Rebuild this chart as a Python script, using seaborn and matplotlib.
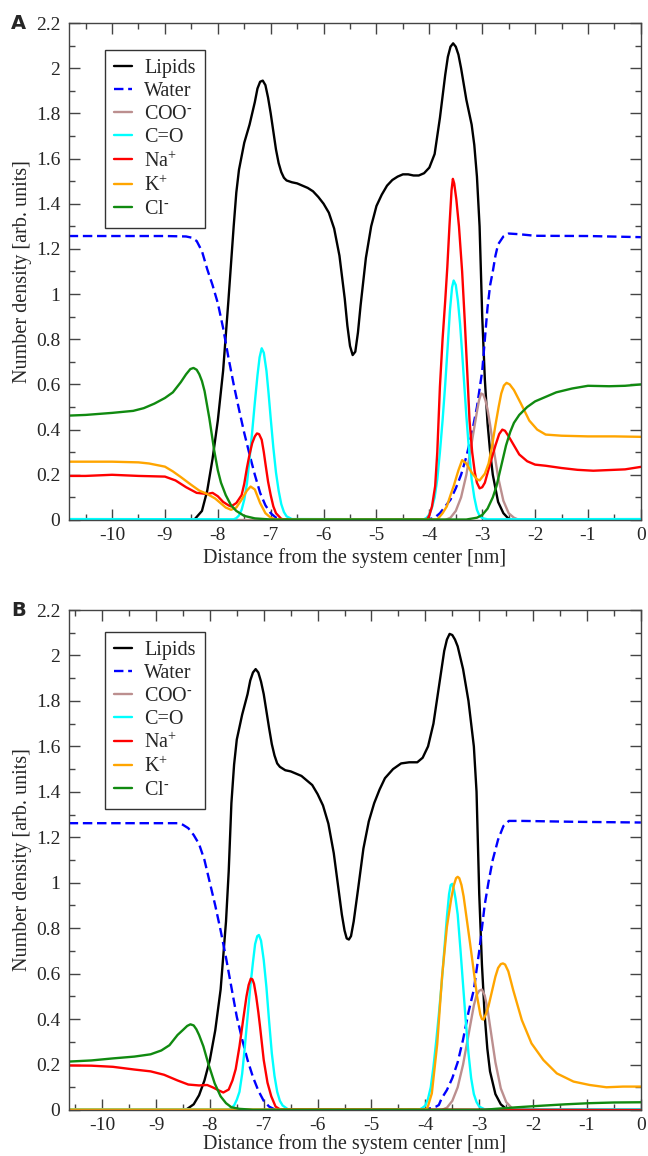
import pandas as pd
import seaborn as sns
import matplotlib.pyplot as plt
from matplotlib.ticker import MultipleLocator, FormatStrFormatter

# ---- panel A ----
lipids_a = [(-10.82, 0), (-8.45, 0), (-8.3, 0.04), (-8.2, 0.13), (-8.1, 0.27), (-8.0, 0.44),
            (-7.9, 0.66), (-7.8, 0.97), (-7.7, 1.3), (-7.65, 1.45), (-7.6, 1.55), (-7.5, 1.67),
            (-7.4, 1.75), (-7.3, 1.85), (-7.25, 1.91), (-7.2, 1.94), (-7.15, 1.945), (-7.1, 1.925),
            (-7.05, 1.87), (-7.0, 1.8), (-6.95, 1.72), (-6.9, 1.64), (-6.85, 1.58), (-6.8, 1.54),
            (-6.75, 1.515), (-6.7, 1.503), (-6.6, 1.495), (-6.5, 1.49), (-6.4, 1.48), (-6.3, 1.47),
            (-6.2, 1.455), (-6.1, 1.43), (-6.0, 1.40), (-5.9, 1.36), (-5.8, 1.29), (-5.7, 1.17),
            (-5.6, 0.98), (-5.55, 0.86), (-5.5, 0.77), (-5.45, 0.73), (-5.4, 0.745), (-5.35, 0.83),
            (-5.3, 0.95), (-5.2, 1.16), (-5.1, 1.3), (-5.0, 1.39), (-4.9, 1.44), (-4.8, 1.48),
            (-4.7, 1.505), (-4.6, 1.52), (-4.5, 1.53), (-4.4, 1.53), (-4.3, 1.525), (-4.2, 1.525),
            (-4.1, 1.535), (-4.0, 1.56), (-3.9, 1.62), (-3.8, 1.78), (-3.7, 1.97), (-3.65, 2.05),
            (-3.6, 2.095), (-3.55, 2.11), (-3.5, 2.095), (-3.45, 2.06), (-3.4, 2.0), (-3.3, 1.86),
            (-3.2, 1.75), (-3.15, 1.66), (-3.1, 1.52), (-3.05, 1.3), (-3.0, 0.9), (-2.95, 0.62),
            (-2.9, 0.43), (-2.85, 0.3), (-2.8, 0.2), (-2.7, 0.08), (-2.6, 0.03), (-2.5, 0.005),
            (-2.4, 0), (0, 0)]
water_a = [(-10.82, 1.257), (-9.0, 1.257), (-8.6, 1.255), (-8.5, 1.25), (-8.4, 1.235), (-8.3, 1.19),
           (-8.2, 1.11), (-8.1, 1.04), (-8.0, 0.96), (-7.9, 0.85), (-7.8, 0.72), (-7.7, 0.6),
           (-7.6, 0.49), (-7.5, 0.385), (-7.4, 0.29), (-7.3, 0.2), (-7.2, 0.12), (-7.1, 0.065),
           (-7.0, 0.03), (-6.9, 0.01), (-6.8, 0.003), (-4.0, 0.003), (-3.9, 0.01), (-3.8, 0.03),
           (-3.7, 0.06), (-3.6, 0.09), (-3.5, 0.14), (-3.4, 0.2), (-3.3, 0.28), (-3.2, 0.38),
           (-3.1, 0.5), (-3.0, 0.66), (-2.95, 0.8), (-2.9, 0.94), (-2.85, 1.04), (-2.8, 1.1),
           (-2.75, 1.17), (-2.7, 1.22), (-2.6, 1.255), (-2.5, 1.268), (-2.3, 1.265), (-2.0, 1.258),
           (-1.0, 1.257), (0, 1.252)]
coo_a = [(-10.82, 0), (-3.7, 0), (-3.6, 0.01), (-3.5, 0.04), (-3.4, 0.1), (-3.3, 0.2), (-3.2, 0.34),
         (-3.1, 0.48), (-3.06, 0.53), (-3.02, 0.56), (-2.98, 0.555), (-2.94, 0.53), (-2.9, 0.49),
         (-2.85, 0.42), (-2.8, 0.34), (-2.7, 0.19), (-2.6, 0.085), (-2.5, 0.03), (-2.4, 0.01),
         (-2.3, 0), (0, 0)]
co_a = [(-10.82, 0.004), (-7.7, 0.003), (-7.65, 0.008), (-7.6, 0.02), (-7.55, 0.045), (-7.5, 0.09),
        (-7.45, 0.16), (-7.4, 0.27), (-7.35, 0.39), (-7.3, 0.52), (-7.25, 0.64), (-7.21, 0.72),
        (-7.17, 0.76), (-7.13, 0.74), (-7.08, 0.66), (-7.04, 0.56), (-7.0, 0.45), (-6.95, 0.32),
        (-6.9, 0.21), (-6.85, 0.13), (-6.8, 0.07), (-6.75, 0.035), (-6.7, 0.016), (-6.6, 0.004),
        (-4.1, 0.003), (-4.05, 0.01), (-4.0, 0.025), (-3.95, 0.055), (-3.9, 0.1), (-3.85, 0.18),
        (-3.8, 0.3), (-3.75, 0.44), (-3.7, 0.6), (-3.65, 0.78), (-3.61, 0.93), (-3.57, 1.03),
        (-3.54, 1.06), (-3.5, 1.04), (-3.46, 0.97), (-3.42, 0.87), (-3.38, 0.74), (-3.34, 0.6),
        (-3.3, 0.46), (-3.25, 0.31), (-3.2, 0.18), (-3.15, 0.1), (-3.1, 0.045), (-3.05, 0.018),
        (-3.0, 0.008), (-2.9, 0.003), (0, 0.004)]
na_a = [(-10.82, 0.195), (-10.5, 0.195), (-10.0, 0.2), (-9.5, 0.195), (-9.0, 0.192), (-8.8, 0.175),
        (-8.6, 0.145), (-8.4, 0.12), (-8.2, 0.115), (-8.1, 0.12), (-8.0, 0.105), (-7.9, 0.08),
        (-7.8, 0.065), (-7.75, 0.06), (-7.65, 0.075), (-7.55, 0.11), (-7.5, 0.16), (-7.45, 0.23),
        (-7.4, 0.29), (-7.35, 0.34), (-7.3, 0.37), (-7.26, 0.383), (-7.22, 0.38), (-7.17, 0.355),
        (-7.13, 0.3), (-7.1, 0.25), (-7.05, 0.17), (-7.0, 0.11), (-6.95, 0.06), (-6.9, 0.03),
        (-6.8, 0.005), (-6.7, 0), (-4.05, 0), (-4.0, 0.02), (-3.95, 0.06), (-3.89, 0.15),
        (-3.85, 0.3), (-3.8, 0.59), (-3.75, 0.8), (-3.7, 0.97), (-3.66, 1.12), (-3.62, 1.3),
        (-3.58, 1.46), (-3.555, 1.51), (-3.53, 1.49), (-3.49, 1.42), (-3.44, 1.3), (-3.38, 1.1),
        (-3.33, 0.88), (-3.28, 0.64), (-3.24, 0.44), (-3.19, 0.3), (-3.14, 0.21), (-3.1, 0.165),
        (-3.05, 0.14), (-3.0, 0.145), (-2.95, 0.165), (-2.85, 0.25), (-2.75, 0.33), (-2.68, 0.38),
        (-2.62, 0.4), (-2.57, 0.395), (-2.5, 0.37), (-2.4, 0.33), (-2.3, 0.29), (-2.15, 0.26),
        (-2.0, 0.245), (-1.8, 0.24), (-1.5, 0.23), (-1.2, 0.222), (-0.9, 0.218), (-0.6, 0.221),
        (-0.3, 0.224), (0, 0.235)]
k_a = [(-10.82, 0.258), (-10.0, 0.258), (-9.5, 0.255), (-9.3, 0.25), (-9.0, 0.236), (-8.85, 0.215),
       (-8.7, 0.19), (-8.5, 0.155), (-8.35, 0.13), (-8.2, 0.115), (-8.05, 0.095), (-7.95, 0.075),
       (-7.85, 0.055), (-7.75, 0.045), (-7.65, 0.055), (-7.55, 0.09), (-7.45, 0.13), (-7.38, 0.148),
       (-7.3, 0.135), (-7.2, 0.075), (-7.1, 0.03), (-7.0, 0.01), (-6.9, 0.002), (-3.85, 0.002),
       (-3.75, 0.03), (-3.67, 0.06), (-3.6, 0.11), (-3.54, 0.15), (-3.45, 0.22), (-3.38, 0.265),
       (-3.3, 0.25), (-3.2, 0.21), (-3.1, 0.18), (-3.05, 0.175), (-2.95, 0.205), (-2.88, 0.25),
       (-2.82, 0.32), (-2.75, 0.42), (-2.69, 0.5), (-2.64, 0.56), (-2.59, 0.595), (-2.54, 0.607),
       (-2.48, 0.6), (-2.4, 0.575), (-2.27, 0.516), (-2.11, 0.44), (-1.96, 0.40), (-1.8, 0.378),
       (-1.5, 0.373), (-1.0, 0.37), (-0.5, 0.37), (0, 0.368)]
cl_a = [(-10.82, 0.462), (-10.5, 0.465), (-10.0, 0.474), (-9.6, 0.483), (-9.4, 0.495), (-9.2, 0.515),
        (-9.0, 0.54), (-8.85, 0.565), (-8.7, 0.61), (-8.6, 0.645), (-8.52, 0.668), (-8.46, 0.673),
        (-8.4, 0.665), (-8.35, 0.645), (-8.3, 0.615), (-8.25, 0.57), (-8.16, 0.45), (-8.07, 0.31),
        (-8.0, 0.22), (-7.94, 0.165), (-7.85, 0.11), (-7.75, 0.065), (-7.65, 0.04), (-7.5, 0.018),
        (-7.3, 0.007), (-7.0, 0.002), (-3.3, 0.002), (-3.1, 0.01), (-3.0, 0.022), (-2.9, 0.05),
        (-2.8, 0.1), (-2.73, 0.15), (-2.65, 0.23), (-2.55, 0.33), (-2.47, 0.39), (-2.4, 0.43),
        (-2.3, 0.465), (-2.15, 0.5), (-2.0, 0.525), (-1.8, 0.545), (-1.6, 0.565), (-1.3, 0.582),
        (-1.0, 0.594), (-0.6, 0.592), (-0.3, 0.594), (0, 0.6)]

# ---- panel B ----
lipids_b = [(-10.62, 0), (-8.45, 0), (-8.3, 0.025), (-8.2, 0.065), (-8.1, 0.13), (-8.0, 0.22),
            (-7.9, 0.35), (-7.8, 0.53), (-7.7, 0.83), (-7.65, 1.05), (-7.6, 1.35), (-7.55, 1.52),
            (-7.5, 1.63), (-7.4, 1.74), (-7.3, 1.83), (-7.25, 1.89), (-7.2, 1.925), (-7.15, 1.94),
            (-7.1, 1.925), (-7.05, 1.885), (-7.0, 1.83), (-6.9, 1.68), (-6.85, 1.61), (-6.8, 1.56),
            (-6.75, 1.525), (-6.7, 1.51), (-6.6, 1.495), (-6.5, 1.49), (-6.4, 1.48), (-6.3, 1.47),
            (-6.2, 1.45), (-6.1, 1.43), (-6.0, 1.39), (-5.9, 1.34), (-5.8, 1.26), (-5.7, 1.13),
            (-5.6, 0.95), (-5.55, 0.86), (-5.5, 0.79), (-5.46, 0.755), (-5.42, 0.75), (-5.38, 0.765),
            (-5.33, 0.83), (-5.25, 0.97), (-5.15, 1.15), (-5.05, 1.27), (-4.95, 1.35), (-4.85, 1.41),
            (-4.75, 1.46), (-4.6, 1.5), (-4.45, 1.525), (-4.3, 1.53), (-4.15, 1.53), (-4.05, 1.55),
            (-3.95, 1.6), (-3.85, 1.7), (-3.75, 1.86), (-3.65, 2.02), (-3.6, 2.07), (-3.55, 2.095),
            (-3.5, 2.09), (-3.45, 2.07), (-3.4, 2.04), (-3.3, 1.94), (-3.2, 1.8), (-3.1, 1.6),
            (-3.05, 1.4), (-3.0, 0.95), (-2.95, 0.64), (-2.9, 0.42), (-2.85, 0.27), (-2.8, 0.17),
            (-2.7, 0.07), (-2.6, 0.025), (-2.5, 0.005), (-2.4, 0), (0, 0)]
water_b = [(-10.62, 1.262), (-8.6, 1.262), (-8.5, 1.255), (-8.4, 1.24), (-8.3, 1.21), (-8.2, 1.17),
           (-8.1, 1.1), (-8.0, 1.0), (-7.9, 0.9), (-7.8, 0.79), (-7.7, 0.67), (-7.6, 0.54),
           (-7.5, 0.41), (-7.4, 0.31), (-7.3, 0.22), (-7.2, 0.145), (-7.1, 0.085), (-7.0, 0.04),
           (-6.9, 0.015), (-6.8, 0.003), (-4.0, 0.003), (-3.9, 0.008), (-3.8, 0.015), (-3.75, 0.022),
           (-3.7, 0.05), (-3.6, 0.088), (-3.5, 0.14), (-3.4, 0.21), (-3.3, 0.31), (-3.2, 0.43),
           (-3.1, 0.53), (-3.0, 0.7), (-2.9, 0.9), (-2.83, 1.0), (-2.75, 1.1), (-2.65, 1.19),
           (-2.55, 1.25), (-2.45, 1.272), (-2.2, 1.272), (-1.2, 1.268), (0, 1.265)]
coo_b = [(-10.62, 0), (-3.7, 0), (-3.6, 0.01), (-3.5, 0.04), (-3.4, 0.1), (-3.3, 0.2), (-3.2, 0.33),
         (-3.1, 0.46), (-3.05, 0.505), (-3.0, 0.525), (-2.95, 0.53), (-2.9, 0.505), (-2.85, 0.45),
         (-2.8, 0.37), (-2.7, 0.21), (-2.6, 0.095), (-2.5, 0.035), (-2.4, 0.01), (-2.3, 0), (0, 0)]
co_b = [(-10.62, 0.003), (-7.65, 0.003), (-7.6, 0.01), (-7.55, 0.02), (-7.5, 0.045), (-7.45, 0.08),
        (-7.4, 0.16), (-7.35, 0.28), (-7.3, 0.41), (-7.25, 0.54), (-7.2, 0.65), (-7.16, 0.73),
        (-7.12, 0.765), (-7.09, 0.77), (-7.05, 0.745), (-7.0, 0.66), (-6.95, 0.54), (-6.9, 0.39),
        (-6.85, 0.25), (-6.8, 0.15), (-6.75, 0.08), (-6.7, 0.04), (-6.65, 0.02), (-6.55, 0.003),
        (-4.1, 0.003), (-4.05, 0.01), (-4.0, 0.02), (-3.95, 0.05), (-3.9, 0.1), (-3.85, 0.19),
        (-3.8, 0.3), (-3.75, 0.42), (-3.7, 0.55), (-3.65, 0.7), (-3.6, 0.85), (-3.56, 0.95),
        (-3.53, 0.99), (-3.5, 0.995), (-3.47, 0.97), (-3.44, 0.93), (-3.4, 0.86), (-3.35, 0.71),
        (-3.3, 0.55), (-3.25, 0.39), (-3.2, 0.25), (-3.15, 0.14), (-3.1, 0.07), (-3.05, 0.035),
        (-3.0, 0.015), (-2.9, 0.003), (0, 0.003)]
na_b = [(-10.62, 0.196), (-10.2, 0.195), (-9.8, 0.19), (-9.4, 0.178), (-9.1, 0.17), (-8.85, 0.155),
        (-8.6, 0.13), (-8.4, 0.112), (-8.2, 0.108), (-8.05, 0.11), (-7.95, 0.1), (-7.85, 0.088),
        (-7.75, 0.077), (-7.65, 0.09), (-7.58, 0.13), (-7.52, 0.18), (-7.45, 0.28), (-7.38, 0.4),
        (-7.32, 0.5), (-7.28, 0.55), (-7.24, 0.578), (-7.21, 0.575), (-7.18, 0.555), (-7.14, 0.5),
        (-7.1, 0.43), (-7.07, 0.37), (-7.0, 0.22), (-6.93, 0.12), (-6.86, 0.06), (-6.78, 0.015),
        (-6.7, 0.003), (0, 0)]
k_b = [(-10.62, 0.002), (-4.0, 0.002), (-3.96, 0.01), (-3.88, 0.073), (-3.78, 0.29), (-3.69, 0.587),
       (-3.6, 0.806), (-3.52, 0.93), (-3.47, 0.99), (-3.43, 1.02), (-3.4, 1.026), (-3.37, 1.02),
       (-3.33, 0.99), (-3.29, 0.94), (-3.17, 0.733), (-3.04, 0.5), (-2.98, 0.42), (-2.95, 0.4),
       (-2.92, 0.398), (-2.88, 0.42), (-2.83, 0.455), (-2.7, 0.587), (-2.65, 0.625), (-2.6, 0.642),
       (-2.56, 0.645), (-2.52, 0.64), (-2.46, 0.61), (-2.37, 0.528), (-2.21, 0.396), (-2.03, 0.293),
       (-1.81, 0.22), (-1.56, 0.161), (-1.25, 0.125), (-0.95, 0.11), (-0.64, 0.1), (-0.33, 0.103),
       (0, 0.103)]
cl_b = [(-10.62, 0.213), (-10.2, 0.218), (-9.8, 0.227), (-9.4, 0.235), (-9.1, 0.245), (-8.9, 0.262),
        (-8.75, 0.285), (-8.6, 0.33), (-8.5, 0.352), (-8.42, 0.37), (-8.36, 0.377), (-8.3, 0.372),
        (-8.25, 0.355), (-8.2, 0.33), (-8.12, 0.28), (-8.03, 0.205), (-7.91, 0.117), (-7.8, 0.06),
        (-7.7, 0.03), (-7.6, 0.012), (-7.45, 0.005), (-7.2, 0.001), (-2.9, 0.001), (-2.7, 0.005),
        (-2.3, 0.012), (-1.9, 0.018), (-1.4, 0.025), (-0.95, 0.03), (-0.5, 0.033), (0, 0.034)]

series_names = ["Lipids", "Water", r"COO$^{\text{-}}$", "C=O", r"Na$^{\text{+}}$",
                r"K$^{\text{+}}$", r"Cl$^{\text{-}}$"]
palette = dict(zip(series_names, ["black", "#0000ff", "#bc8f8f", "#00ffff", "#ff0000", "#ffa500", "#108a10"]))
dashes = {name: "" for name in series_names}
dashes["Water"] = (4, 2)

# curves, left x limit, legend top (axes fraction), x-label pad
panels = {
    "A": ([lipids_a, water_a, coo_a, co_a, na_a, k_a, cl_a], -10.82, 0.946, 3),
    "B": ([lipids_b, water_b, coo_b, co_b, na_b, k_b, cl_b], -10.62, 0.957, 0),
}

sns.set_style("ticks")
plt.rcParams["font.family"] = ["Liberation Serif", "DejaVu Serif"]
plt.rcParams["mathtext.fontset"] = "custom"
plt.rcParams["mathtext.rm"] = "Liberation Serif"
plt.rcParams["mathtext.it"] = "Liberation Serif:italic"
plt.rcParams["axes.unicode_minus"] = False

fig = plt.figure(figsize=(6.48, 11.56), dpi=100)
positions = {"A": [0.106, 0.5502, 0.883, 0.4299], "B": [0.106, 0.0398, 0.883, 0.4325]}

for key, (curves, xmin, leg_top, xpad) in panels.items():
    ax = fig.add_axes(positions[key])
    rows = []
    for name, pts in zip(series_names, curves):
        for x, y in pts:
            rows.append({"x": x, "y": y, "series": name})
    df = pd.DataFrame(rows)
    sns.lineplot(data=df, x="x", y="y", hue="series", style="series",
                 palette=palette, dashes=dashes, hue_order=series_names,
                 style_order=series_names, estimator=None, sort=False,
                 linewidth=1.7, ax=ax)
    ax.set_xlim(xmin, 0)
    ax.set_ylim(0, 2.2)
    ax.xaxis.set_major_locator(MultipleLocator(1))
    ax.xaxis.set_minor_locator(MultipleLocator(0.5))
    ax.yaxis.set_major_locator(MultipleLocator(0.2))
    ax.yaxis.set_minor_locator(MultipleLocator(0.1))
    ax.xaxis.set_major_formatter(FormatStrFormatter("%g"))
    ax.yaxis.set_major_formatter(FormatStrFormatter("%g"))
    ax.tick_params(which="both", direction="in", top=True, right=True, labelsize=14,
                   color="#444444", width=1)
    ax.tick_params(which="major", length=8)
    ax.tick_params(which="minor", length=4)
    ax.tick_params(axis="y", pad=6)
    ax.tick_params(axis="x", pad=5)
    for s in ax.spines.values():
        s.set_color("#444444")
        s.set_linewidth(1)
    ax.set_xlabel("Distance from the system center [nm]", fontsize=14.5, labelpad=xpad)
    ax.set_ylabel("Number density [arb. units]", fontsize=14.5, labelpad=3)

    # legend: short line handles in a square black frame
    handles, labels = ax.get_legend_handles_labels()
    leg = ax.legend(handles, labels, loc="upper left", bbox_to_anchor=(0.0635, leg_top),
                    borderaxespad=0, fontsize=14.5, handlelength=0.9, handletextpad=0.6,
                    labelspacing=0.2, borderpad=0.45, fancybox=False, framealpha=1,
                    edgecolor="#333333")
    leg.get_frame().set_linewidth(1)

    top = positions[key][1] + positions[key][3]
    fig.text(0.028, top, key, fontsize=14, fontweight="bold", family="DejaVu Sans",
             ha="center", va="center")

fig.savefig("out.png", dpi=100)
